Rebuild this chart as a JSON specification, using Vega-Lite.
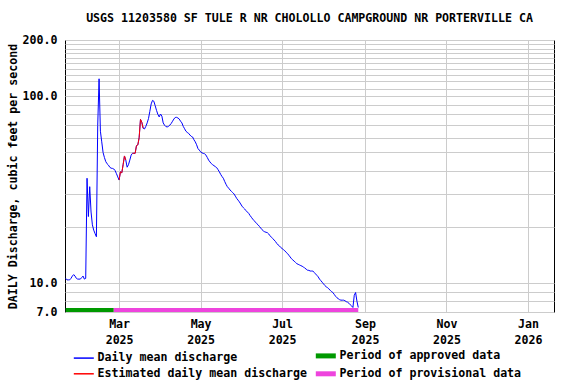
{
  "$schema": "https://vega.github.io/schema/vega-lite/v6.json",
  "width": 489,
  "height": 272,
  "autosize": {"type": "none"},
  "padding": {"left": 65, "top": 40, "right": 22, "bottom": 72},
  "title": {
    "text": "USGS 11203580 SF TULE R NR CHOLOLLO CAMPGROUND NR PORTERVILLE CA",
    "font": "DejaVu Sans Mono",
    "fontSize": 11.6,
    "fontWeight": "bold",
    "color": "black",
    "frame": "group",
    "anchor": "middle",
    "offset": 9
  },
  "datasets": {
    "flow": [
      {"d": "2025-01-20", "q": 10.6}, {"d": "2025-01-21", "q": 10.4}, {"d": "2025-01-22", "q": 10.4}, {"d": "2025-01-23", "q": 10.4},
      {"d": "2025-01-24", "q": 10.6}, {"d": "2025-01-25", "q": 10.9}, {"d": "2025-01-26", "q": 11.1}, {"d": "2025-01-27", "q": 10.9},
      {"d": "2025-01-28", "q": 10.6}, {"d": "2025-01-29", "q": 10.5}, {"d": "2025-01-30", "q": 10.5}, {"d": "2025-01-31", "q": 10.5},
      {"d": "2025-02-01", "q": 10.7}, {"d": "2025-02-02", "q": 10.9}, {"d": "2025-02-03", "q": 10.5}, {"d": "2025-02-04", "q": 10.6},
      {"d": "2025-02-05", "q": 36.4}, {"d": "2025-02-06", "q": 22.7}, {"d": "2025-02-07", "q": 32.8}, {"d": "2025-02-08", "q": 24},
      {"d": "2025-02-09", "q": 20.5}, {"d": "2025-02-10", "q": 19.2}, {"d": "2025-02-11", "q": 18.4}, {"d": "2025-02-12", "q": 17.7},
      {"d": "2025-02-13", "q": 70}, {"d": "2025-02-14", "q": 124}, {"d": "2025-02-15", "q": 65}, {"d": "2025-02-16", "q": 57},
      {"d": "2025-02-17", "q": 50}, {"d": "2025-02-18", "q": 47}, {"d": "2025-02-19", "q": 44.7}, {"d": "2025-02-20", "q": 43.5},
      {"d": "2025-02-21", "q": 42.8}, {"d": "2025-02-22", "q": 41.7}, {"d": "2025-02-23", "q": 41.2}, {"d": "2025-02-24", "q": 41.1},
      {"d": "2025-02-25", "q": 40.8}, {"d": "2025-02-26", "q": 40}, {"d": "2025-02-27", "q": 38.5}, {"d": "2025-02-28", "q": 37},
      {"d": "2025-03-01", "q": 35.6, "e": 1}, {"d": "2025-03-02", "q": 39.4, "e": 1}, {"d": "2025-03-03", "q": 38.9, "e": 1},
      {"d": "2025-03-04", "q": 43, "e": 1}, {"d": "2025-03-05", "q": 47.9, "e": 1}, {"d": "2025-03-06", "q": 45.5, "e": 1},
      {"d": "2025-03-07", "q": 41.7}, {"d": "2025-03-08", "q": 43}, {"d": "2025-03-09", "q": 45.5}, {"d": "2025-03-10", "q": 48.4},
      {"d": "2025-03-11", "q": 49.5, "e": 2}, {"d": "2025-03-12", "q": 49.5, "e": 2}, {"d": "2025-03-13", "q": 49.5, "e": 2},
      {"d": "2025-03-14", "q": 54.4, "e": 2}, {"d": "2025-03-15", "q": 54.9, "e": 2}, {"d": "2025-03-16", "q": 60, "e": 2},
      {"d": "2025-03-17", "q": 75.2, "e": 2}, {"d": "2025-03-18", "q": 72.5, "e": 2}, {"d": "2025-03-19", "q": 67.4, "e": 2},
      {"d": "2025-03-20", "q": 66.8}, {"d": "2025-03-21", "q": 69}, {"d": "2025-03-22", "q": 72}, {"d": "2025-03-23", "q": 76},
      {"d": "2025-03-24", "q": 83}, {"d": "2025-03-25", "q": 91}, {"d": "2025-03-26", "q": 95}, {"d": "2025-03-27", "q": 94},
      {"d": "2025-03-28", "q": 89}, {"d": "2025-03-29", "q": 84}, {"d": "2025-03-30", "q": 80}, {"d": "2025-03-31", "q": 77.5},
      {"d": "2025-04-01", "q": 80.3}, {"d": "2025-04-02", "q": 78.3}, {"d": "2025-04-03", "q": 72}, {"d": "2025-04-04", "q": 70},
      {"d": "2025-04-05", "q": 68.8}, {"d": "2025-04-06", "q": 68.5}, {"d": "2025-04-07", "q": 69}, {"d": "2025-04-08", "q": 70.1},
      {"d": "2025-04-09", "q": 71.5}, {"d": "2025-04-10", "q": 73.5}, {"d": "2025-04-11", "q": 75.5}, {"d": "2025-04-12", "q": 77},
      {"d": "2025-04-13", "q": 77.1}, {"d": "2025-04-14", "q": 76.5}, {"d": "2025-04-15", "q": 75.5}, {"d": "2025-04-16", "q": 73.5},
      {"d": "2025-04-17", "q": 72}, {"d": "2025-04-18", "q": 69}, {"d": "2025-04-19", "q": 67}, {"d": "2025-04-20", "q": 65},
      {"d": "2025-04-21", "q": 64}, {"d": "2025-04-22", "q": 63.3}, {"d": "2025-04-23", "q": 62}, {"d": "2025-04-24", "q": 61},
      {"d": "2025-04-25", "q": 60.5}, {"d": "2025-04-26", "q": 58.5}, {"d": "2025-04-27", "q": 57}, {"d": "2025-04-28", "q": 55},
      {"d": "2025-04-29", "q": 52.5}, {"d": "2025-04-30", "q": 51.5},
      {"d": "2025-05-01", "q": 50.4}, {"d": "2025-05-02", "q": 49.8}, {"d": "2025-05-03", "q": 49.4}, {"d": "2025-05-04", "q": 49.2},
      {"d": "2025-05-05", "q": 48.4}, {"d": "2025-05-06", "q": 47}, {"d": "2025-05-07", "q": 45.5}, {"d": "2025-05-08", "q": 44.5},
      {"d": "2025-05-09", "q": 43.6}, {"d": "2025-05-10", "q": 43}, {"d": "2025-05-11", "q": 42.5}, {"d": "2025-05-12", "q": 42},
      {"d": "2025-05-13", "q": 41.5}, {"d": "2025-05-14", "q": 40.5}, {"d": "2025-05-15", "q": 39.4}, {"d": "2025-05-16", "q": 38.2},
      {"d": "2025-05-17", "q": 37.2}, {"d": "2025-05-18", "q": 36.4}, {"d": "2025-05-19", "q": 35}, {"d": "2025-05-20", "q": 33.8},
      {"d": "2025-05-21", "q": 32.8}, {"d": "2025-05-22", "q": 32.2}, {"d": "2025-05-23", "q": 31.5}, {"d": "2025-05-24", "q": 31},
      {"d": "2025-05-25", "q": 30.5}, {"d": "2025-05-26", "q": 30}, {"d": "2025-05-27", "q": 29.2}, {"d": "2025-05-28", "q": 28.4},
      {"d": "2025-05-29", "q": 27.8}, {"d": "2025-05-30", "q": 27.2}, {"d": "2025-05-31", "q": 26.5},
      {"d": "2025-06-01", "q": 25.8}, {"d": "2025-06-02", "q": 25.3}, {"d": "2025-06-03", "q": 24.9}, {"d": "2025-06-04", "q": 24.4},
      {"d": "2025-06-05", "q": 24.0}, {"d": "2025-06-06", "q": 23.6}, {"d": "2025-06-07", "q": 23.0}, {"d": "2025-06-08", "q": 22.5},
      {"d": "2025-06-09", "q": 22.0}, {"d": "2025-06-10", "q": 21.6}, {"d": "2025-06-11", "q": 21.2}, {"d": "2025-06-12", "q": 20.8},
      {"d": "2025-06-13", "q": 20.5}, {"d": "2025-06-14", "q": 20.1}, {"d": "2025-06-15", "q": 19.7}, {"d": "2025-06-16", "q": 19.3},
      {"d": "2025-06-17", "q": 19.0}, {"d": "2025-06-18", "q": 18.8}, {"d": "2025-06-19", "q": 18.7}, {"d": "2025-06-20", "q": 18.6},
      {"d": "2025-06-21", "q": 18.3}, {"d": "2025-06-22", "q": 17.9}, {"d": "2025-06-23", "q": 17.6}, {"d": "2025-06-24", "q": 17.3},
      {"d": "2025-06-25", "q": 17.0}, {"d": "2025-06-26", "q": 16.7}, {"d": "2025-06-27", "q": 16.3}, {"d": "2025-06-28", "q": 16.0},
      {"d": "2025-06-29", "q": 15.8}, {"d": "2025-06-30", "q": 15.5},
      {"d": "2025-07-01", "q": 15.3}, {"d": "2025-07-02", "q": 15.1}, {"d": "2025-07-03", "q": 14.9}, {"d": "2025-07-04", "q": 14.6},
      {"d": "2025-07-05", "q": 14.4}, {"d": "2025-07-06", "q": 14.1}, {"d": "2025-07-07", "q": 13.8}, {"d": "2025-07-08", "q": 13.5},
      {"d": "2025-07-09", "q": 13.3}, {"d": "2025-07-10", "q": 13.1}, {"d": "2025-07-11", "q": 12.9}, {"d": "2025-07-12", "q": 12.7},
      {"d": "2025-07-13", "q": 12.6}, {"d": "2025-07-14", "q": 12.5}, {"d": "2025-07-15", "q": 12.4}, {"d": "2025-07-16", "q": 12.3},
      {"d": "2025-07-17", "q": 12.2}, {"d": "2025-07-18", "q": 12.0}, {"d": "2025-07-19", "q": 11.9}, {"d": "2025-07-20", "q": 11.7},
      {"d": "2025-07-21", "q": 11.7}, {"d": "2025-07-22", "q": 11.6}, {"d": "2025-07-23", "q": 11.6}, {"d": "2025-07-24", "q": 11.6},
      {"d": "2025-07-25", "q": 11.4}, {"d": "2025-07-26", "q": 11.2}, {"d": "2025-07-27", "q": 11.0}, {"d": "2025-07-28", "q": 10.8},
      {"d": "2025-07-29", "q": 10.5}, {"d": "2025-07-30", "q": 10.3}, {"d": "2025-07-31", "q": 10.1},
      {"d": "2025-08-01", "q": 9.9}, {"d": "2025-08-02", "q": 9.7}, {"d": "2025-08-03", "q": 9.55}, {"d": "2025-08-04", "q": 9.45},
      {"d": "2025-08-05", "q": 9.3}, {"d": "2025-08-06", "q": 9.15}, {"d": "2025-08-07", "q": 9.0}, {"d": "2025-08-08", "q": 8.9},
      {"d": "2025-08-09", "q": 8.7}, {"d": "2025-08-10", "q": 8.5}, {"d": "2025-08-11", "q": 8.35}, {"d": "2025-08-12", "q": 8.25},
      {"d": "2025-08-13", "q": 8.15}, {"d": "2025-08-14", "q": 8.1}, {"d": "2025-08-15", "q": 8.1}, {"d": "2025-08-16", "q": 8.1},
      {"d": "2025-08-17", "q": 8.05}, {"d": "2025-08-18", "q": 7.95}, {"d": "2025-08-19", "q": 7.9}, {"d": "2025-08-20", "q": 7.8},
      {"d": "2025-08-21", "q": 7.65}, {"d": "2025-08-22", "q": 7.55}, {"d": "2025-08-23", "q": 7.4}, {"d": "2025-08-24", "q": 8.6},
      {"d": "2025-08-25", "q": 8.9}, {"d": "2025-08-26", "q": 8.0}, {"d": "2025-08-27", "q": 7.4}
    ],
    "periods": [
      {"s": "2025-01-20", "t": "2025-02-25", "status": "Period of approved data"},
      {"s": "2025-02-25", "t": "2025-08-27", "status": "Period of provisional data"}
    ]
  },
  "encoding": {
    "x": {
      "field": "d",
      "type": "temporal",
      "scale": {
        "type": "utc",
        "domain": [
          {"year": 2025, "month": 1, "date": 19, "hours": 12, "utc": true},
          {"year": 2026, "month": 1, "date": 20, "hours": 12, "utc": true}
        ]
      },
      "axis": {
        "title": null,
        "values": [
          {"year": 2025, "month": 3, "date": 1, "utc": true},
          {"year": 2025, "month": 5, "date": 1, "utc": true},
          {"year": 2025, "month": 7, "date": 1, "utc": true},
          {"year": 2025, "month": 9, "date": 1, "utc": true},
          {"year": 2025, "month": 11, "date": 1, "utc": true},
          {"year": 2026, "month": 1, "date": 1, "utc": true}
        ],
        "labelExpr": "[utcFormat(datum.value, '%b'), utcFormat(datum.value, '%Y')]",
        "grid": true,
        "ticks": false,
        "tickSize": 0,
        "domain": false,
        "labelPadding": 6,
        "labelLineHeight": 16,
        "labelFlush": false,
        "labelOverlap": false
      }
    },
    "y": {
      "field": "q",
      "type": "quantitative",
      "scale": {"type": "log", "domain": [7, 200], "nice": false},
      "axis": {
        "title": "DAILY Discharge, cubic feet per second",
        "values": [7, 8, 9, 10, 20, 30, 40, 50, 60, 70, 80, 90, 100, 110, 120, 130, 140, 150, 160, 170, 180, 190, 200],
        "labelExpr": "indexof([7, 10, 100, 200], datum.value) >= 0 ? format(datum.value, '.1f') : ''",
        "grid": true,
        "ticks": false,
        "tickSize": 0,
        "domain": false,
        "labelPadding": 8,
        "titlePadding": 4,
        "labelFlush": false,
        "labelOverlap": false
      }
    }
  },
  "layer": [
    {
      "data": {"name": "flow"},
      "mark": {"type": "line", "strokeWidth": 1, "clip": true},
      "encoding": {
        "color": {
          "datum": "Daily mean discharge",
          "scale": {
            "domain": ["Daily mean discharge", "Estimated daily mean discharge", "Period of approved data", "Period of provisional data"],
            "range": ["#0000ff", "#ff0000", "#009900", "#ee44dd"]
          },
          "legend": {
            "encode": {
              "symbols": {
                "update": {
                  "strokeWidth": {"signal": "indexof(['Period of approved data', 'Period of provisional data'], datum.value) >= 0 ? 5 : 1.5"}
                }
              }
            }
          }
        }
      }
    },
    {
      "data": {"name": "flow"},
      "transform": [{"filter": "datum.e > 0"}],
      "mark": {"type": "line", "strokeWidth": 1, "clip": true},
      "encoding": {
        "color": {"datum": "Estimated daily mean discharge"},
        "detail": {"field": "e", "type": "nominal"}
      }
    },
    {
      "data": {"name": "periods"},
      "mark": {"type": "rule", "strokeWidth": 4, "yOffset": -2},
      "encoding": {
        "x": {"field": "s", "type": "temporal"},
        "x2": {"field": "t"},
        "y": {"value": "height"},
        "color": {"field": "status", "type": "nominal"}
      }
    }
  ],
  "config": {
    "font": "DejaVu Sans Mono",
    "view": {"stroke": "black", "strokeWidth": 1},
    "axis": {
      "labelFont": "DejaVu Sans Mono",
      "labelFontSize": 11.6,
      "labelFontWeight": "bold",
      "labelColor": "black",
      "titleFont": "DejaVu Sans Mono",
      "titleFontSize": 11.6,
      "titleFontWeight": "bold",
      "titleColor": "black",
      "gridColor": "#cccccc",
      "gridWidth": 1,
      "gridOpacity": 1
    },
    "legend": {
      "orient": "none",
      "legendX": 13,
      "legendY": 310,
      "columns": 2,
      "title": null,
      "symbolType": "stroke",
      "symbolSize": 400,
      "symbolStrokeWidth": 1.5,
      "labelFont": "DejaVu Sans Mono",
      "labelFontSize": 11.6,
      "labelFontWeight": "bold",
      "labelColor": "black",
      "labelLimit": 0,
      "labelOffset": 8,
      "columnPadding": -3,
      "rowPadding": -3
    }
  }
}
